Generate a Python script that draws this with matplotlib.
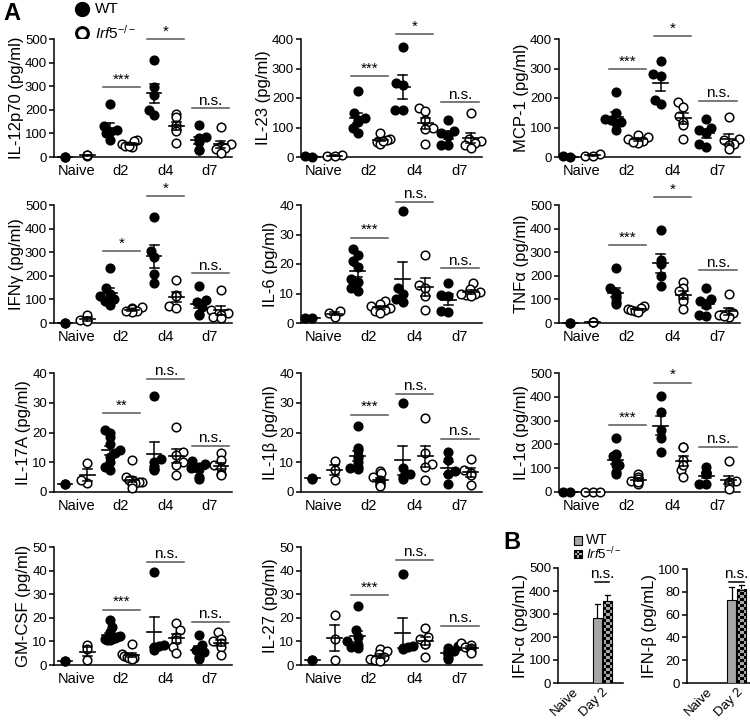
import numpy as np
import matplotlib
matplotlib.use('Agg')
import matplotlib.pyplot as plt
from matplotlib.colors import ListedColormap
from matplotlib.patches import Rectangle

plt.rcParams['font.family'] = ['Liberation Sans', 'DejaVu Sans']
plt.rcParams['mathtext.fontset'] = 'custom'
plt.rcParams['mathtext.rm'] = 'Liberation Sans'
plt.rcParams['mathtext.it'] = 'Liberation Sans:italic'
plt.rcParams['mathtext.bf'] = 'Liberation Sans:bold'

W, H = 750, 722
fig = plt.figure(figsize=(W / 100, H / 100), dpi=100)

# ---------------- data ----------------
days = ['Naive', 'd2', 'd4', 'd7']

il12_wt = [[1, 2], [224, 130, 115, 108, 100, 72], [412, 295, 263, 199, 178], [135, 85, 80, 62, 30, 28]]
il12_ko = [[9, 5, 7], [70, 66, 55, 48, 42, 45], [182, 170, 135, 125, 110, 60], [128, 57, 48, 40, 35, 15]]
il12_sig = ['***', '*', 'n.s.']
il12_sig_y = [295, 501, 206]

il23_wt = [[1, 2], [225, 148, 132, 126, 118, 100, 80], [372, 252, 245, 160, 158], [127, 88, 82, 72, 42, 40]]
il23_ko = [[8, 4, 2], [80, 62, 57, 50, 45, 55], [165, 155, 125, 100, 95, 43], [148, 60, 55, 48, 40, 30]]
il23_sig = ['***', '*', 'n.s.']
il23_sig_y = [275, 417, 185]

mcp_wt = [[1, 2], [222, 150, 128, 120, 115, 92, 125], [327, 280, 275, 193, 178], [130, 100, 90, 80, 45, 35]]
mcp_ko = [[10, 5, 3], [75, 68, 62, 55, 48, 52], [188, 170, 140, 120, 108, 62], [136, 62, 57, 45, 40, 28]]
mcp_sig = ['***', '*', 'n.s.']
mcp_sig_y = [299, 409, 191]

ifng_wt = [[1, 2], [232, 150, 125, 115, 100, 75, 95], [448, 307, 279, 208, 170], [155, 96, 89, 68, 40, 32]]
ifng_ko = [[35, 12, 8], [68, 62, 58, 52, 45, 50], [183, 117, 115, 70, 65], [141, 55, 42, 35, 25, 20]]
ifng_sig = ['*', '*', 'n.s.']
ifng_sig_y = [304, 537, 211]

il6_wt = [[1.8, 1.6], [25, 23, 21, 19, 15, 14, 12, 11], [38, 12, 10, 8, 7], [13.6, 9.6, 9, 4, 3.6]]
il6_ko = [[4, 3.5, 2], [7.4, 6.5, 5.8, 5.2, 4.5, 4, 3.5], [23, 13, 12, 9, 4.3], [13.5, 11.5, 10.5, 10, 9.5, 9, 9.8]]
il6_sig = ['***', 'n.s.', 'n.s.']
il6_sig_y = [28.9, 41.1, 18.5]

tnf_wt = [[1, 2], [232, 150, 128, 115, 105, 90, 80], [392, 265, 251, 201, 155], [150, 100, 95, 75, 35, 30]]
tnf_ko = [[5, 3, 4], [70, 65, 60, 55, 50, 45], [173, 150, 135, 110, 95, 58], [122, 48, 42, 35, 25, 30]]
tnf_sig = ['***', '*', 'n.s.']
tnf_sig_y = [331, 532, 223]

il17_wt = [[2.8, 2.7], [21, 20, 18.6, 16, 14, 13, 11.8, 10, 8.5, 7.3], [32.3, 11, 10, 8, 7.6, 7.5],
           [10.5, 9.5, 8.5, 8, 7.8, 5, 4.5]]
il17_ko = [[9.9, 3, 4.2], [10.6, 5, 4.2, 3.9, 3.4, 3.2, 3, 2.8, 1.5], [22, 13.5, 12.5, 10, 9, 5.6],
           [13, 10.7, 9, 8, 6.2, 5.6]]
il17_sig = ['**', 'n.s.', 'n.s.']
il17_sig_y = [26.5, 38.1, 15.5]

il1b_wt = [[4.5, 4.6], [22.3, 14.7, 14, 12, 11.5, 10, 8.5, 8, 7.8], [29.8, 8, 6, 5, 4.5], [13.6, 10.8, 7, 6, 2.8]]
il1b_ko = [[10.5, 7.5, 4.2], [7.2, 6.5, 5, 4, 3.4, 3, 2.5, 2], [24.9, 13, 9.5, 8.5, 4], [11, 7.5, 6.3, 5.8, 2.3]]
il1b_sig = ['***', 'n.s.', 'n.s.']
il1b_sig_y = [26, 33, 17.9]

il1a_wt = [[0, 0], [225, 160, 155, 150, 120, 115, 113, 85, 75], [404, 338, 261, 225, 169], [105, 85, 80, 75, 35, 35]]
il1a_ko = [[0, 0, 0], [75, 65, 55, 48, 42, 35, 40], [190, 188, 134, 92, 63, 115], [132, 48, 42, 40, 28, 14]]
il1a_sig = ['***', '*', 'n.s.']
il1a_sig_y = [282, 460, 190]

gm_wt = [[1.8, 1.7], [19, 16, 14, 12.5, 12, 11.5, 11, 11, 10.5, 10.5], [39.4, 8.5, 8.2, 7.5, 6.5],
         [12.7, 8.5, 6.5, 5.5, 3.5, 2.5]]
gm_ko = [[8.3, 6.8, 2.0], [9, 4.5, 4, 3.5, 3, 2.8, 2.5], [17.6, 14.8, 12, 10.6, 7.7, 4.9], [14, 11, 10, 9.5, 7.7, 4.2]]
gm_sig = ['***', 'n.s.', 'n.s.']
gm_sig_y = [23.5, 43.7, 18.3]

il27_wt = [[2.1, 2.0], [25, 15, 12, 10, 8.5, 7.5, 7], [38.7, 8, 7.5, 7, 6.8], [8, 7, 6, 5.5, 4.5, 3.5, 2.5]]
il27_ko = [[21, 11, 2.0], [6.8, 6, 4.5, 3.5, 2.5, 2, 1.5], [15.8, 12, 11, 9, 8.9, 3.5], [9.5, 8.5, 7.5, 7, 6, 5]]
il27_sig = ['***', 'n.s.', 'n.s.']
il27_sig_y = [29.6, 44.6, 16.6]

b_groups = ['Naive', 'Day 2']
ifna_wt = [0, 282]
ifna_wt_err = [0, 60]
ifna_ko = [0, 355]
ifna_ko_err = [0, 28]
ifna_sig_y = 440
ifnb_wt = [0, 73]
ifnb_wt_err = [0, 11]
ifnb_ko = [0, 82]
ifnb_ko_err = [0, 4]
ifnb_sig_y = 89

# ---------------- layout (pixels) ----------------
col_l = [54, 301, 559]
col_r = [232, 482, 740]
row_tb = [(39, 157), (205, 323), (373, 492), (547, 665)]

GRAY = '#a6a6a6'
DIAM = 8.5  # marker diameter px


def add_ax(l, t, r, b):
    return fig.add_axes([l / W, 1 - b / H, (r - l) / W, (b - t) / H])


def swarm(vals, pxy, d, maxhalf):
    ys = np.asarray(vals, float) * pxy
    order = np.argsort(ys, kind='stable')
    xs = np.zeros(len(ys))
    placed = []
    for n, i in enumerate(order):
        y = ys[i]
        cands = [0.0]
        for (px, py) in placed:
            dy = y - py
            if abs(dy) < d:
                dx = np.sqrt(d * d - dy * dy)
                cands += [px + dx, px - dx]
        sgn = 1 if n % 2 == 0 else -1
        cands = sorted(set(np.round(cands, 6)), key=lambda c: (abs(c), -sgn * c))
        for c in cands:
            if all((c - px) ** 2 + (y - py) ** 2 >= d * d - 1e-6 for px, py in placed):
                xs[i] = c
                break
        placed.append((xs[i], y))
    m = np.abs(xs).max() if len(xs) else 0
    if m > maxhalf:
        xs *= maxhalf / m
    return xs


def style_ax(ax):
    for s in ['top', 'right']:
        ax.spines[s].set_visible(False)
    for s in ['left', 'bottom']:
        ax.spines[s].set_linewidth(1.1)
    ax.tick_params(axis='y', direction='out', length=3.5, width=1.1, pad=1.5, labelsize=9.5)


def scatter_panel(col, row, wt, ko, ymax, ystep, ylabel, sig, sig_y):
    l, r = col_l[col], col_r[col]
    t, b = row_tb[row]
    ax = add_ax(l, t, r, b)
    ax.set_xlim(-0.5, 7.5)
    ax.set_ylim(0, ymax)
    pxx = (r - l) / 8.0
    pxy = (b - t) / ymax
    for gi in range(4):
        for k, (vals, filled) in enumerate([(wt[gi], True), (ko[gi], False)]):
            c = 2 * gi + k
            v = np.asarray(vals, float)
            offs = swarm(v, pxy, DIAM * 0.88, 0.45 * pxx) / pxx
            ax.plot(c + offs, v, 'o', ms=6.2, mfc='black' if filled else 'white', mec='black',
                    mew=1.1, ls='none', clip_on=False, zorder=3)
            m = v.mean()
            se = v.std(ddof=1) / np.sqrt(len(v)) if len(v) > 1 else 0
            ax.plot([c - 0.33, c + 0.33], [m, m], color='black', lw=1.2, zorder=4, clip_on=False)
            if se > 0:
                ax.plot([c, c], [m - se, m + se], color='black', lw=1.1, zorder=4, clip_on=False)
                for yy in (m - se, m + se):
                    ax.plot([c - 0.2, c + 0.2], [yy, yy], color='black', lw=1.1, zorder=4, clip_on=False)
    for j, (s, y) in enumerate(zip(sig, sig_y)):
        gi = j + 1
        x0, x1 = 2 * gi - 0.3, 2 * gi + 1 + 0.35
        ax.plot([x0, x1], [y, y], color='#555555', lw=1.1, clip_on=False)
        ax.annotate(s, ((x0 + x1) / 2, y), xytext=(0, 2.5), textcoords='offset points',
                    ha='center', va='baseline', fontsize=11, annotation_clip=False)
    style_ax(ax)
    ax.set_yticks(np.arange(0, ymax + ystep / 2, ystep))
    ax.set_xticks([0.5, 2.5, 4.5, 6.5])
    ax.set_xticklabels(days, fontsize=10.5)
    ax.tick_params(axis='x', length=0, pad=5)
    ax.set_ylabel(ylabel, fontsize=12, labelpad=0.5)
    return ax


def checker(ax, x0, x1, y0, y1, cell_px, pxx, pxy, zorder=3):
    nx = max(1, int(round((x1 - x0) * pxx / cell_px)))
    ny = max(1, int(round((y1 - y0) * pxy / cell_px)))
    arr = (np.add.outer(np.arange(ny), np.arange(nx)) % 2).astype(float)
    ax.imshow(arr, extent=(x0, x1, y0, y1), origin='lower', aspect='auto',
              cmap=ListedColormap(['black', GRAY]), vmin=0, vmax=1,
              interpolation='nearest', zorder=zorder)


def bar_panel(l, t, r, b, xlim, wt, wt_err, ko, ko_err, ymax, ystep, ylabel, sig_y):
    ax = add_ax(l, t, r, b)
    pxx = (r - l) / (xlim[1] - xlim[0])
    pxy = (b - t) / ymax
    bw = 0.31
    x = np.arange(len(b_groups))
    for i in x:
        xw, xk = i - 0.165, i + 0.165
        if wt[i] > 0:
            ax.bar(xw, wt[i], width=bw, color=GRAY, edgecolor='black', lw=0.8, zorder=3)
            top = wt[i] + wt_err[i]
            ax.plot([xw, xw], [wt[i], top], color='black', lw=0.9, zorder=2)
            ax.plot([xw - 0.09, xw + 0.09], [top, top], color='black', lw=0.9, zorder=2)
        if ko[i] > 0:
            checker(ax, xk - bw / 2, xk + bw / 2, 0, ko[i], 3.0, pxx, pxy)
            ax.add_patch(Rectangle((xk - bw / 2, 0), bw, ko[i], fill=False, edgecolor='black', lw=0.8, zorder=4))
            top = ko[i] + ko_err[i]
            ax.plot([xk, xk], [ko[i], top], color='black', lw=0.9, zorder=2)
            ax.plot([xk - 0.09, xk + 0.09], [top, top], color='black', lw=0.9, zorder=2)
    x0, x1 = 1 - 0.24, 1 + 0.24
    ax.plot([x0, x1], [sig_y, sig_y], color='black', lw=1.1, clip_on=False)
    ax.annotate('n.s.', ((x0 + x1) / 2, sig_y), xytext=(0, 2.5), textcoords='offset points',
                ha='center', va='baseline', fontsize=11, annotation_clip=False)
    ax.set_xlim(*xlim)
    ax.set_ylim(0, ymax)
    style_ax(ax)
    ax.set_yticks(np.arange(0, ymax + ystep / 2, ystep))
    ax.set_xticks(x)
    ax.set_xticklabels(b_groups, rotation=45, ha='right', rotation_mode='anchor', fontsize=9.5)
    ax.tick_params(axis='x', length=0, pad=2)
    ax.set_ylabel(ylabel, fontsize=12, labelpad=0.5)
    return ax


# overlay for legends / panel letters
ax0 = fig.add_axes([0, 0, 1, 1])
ax0.set_xlim(0, W)
ax0.set_ylim(H, 0)
ax0.axis('off')

ax0.text(3, 2, 'A', fontsize=17, fontweight='bold', ha='left', va='top')
ax0.text(503, 531, 'B', fontsize=17, fontweight='bold', ha='left', va='top')
ax0.plot([82], [9], 'o', ms=9.5, mfc='black', mec='black', mew=1.5)
ax0.plot([82], [33], 'o', ms=8.5, mfc='white', mec='black', mew=2.2)
ax0.text(95, 9, 'WT', fontsize=11, ha='left', va='center')
ax0.text(95, 33, r'$\mathit{Irf5}^{-/-}$', fontsize=11, ha='left', va='center')

ax0.add_patch(Rectangle((574, 536), 8, 9, facecolor=GRAY, edgecolor='black', lw=0.8))
ax0.imshow((np.add.outer(np.arange(3), np.arange(3)) % 2).astype(float), extent=(574, 582, 558, 550),
           origin='upper', aspect='auto', cmap=ListedColormap(['black', GRAY]), vmin=0, vmax=1,
           interpolation='nearest')
ax0.add_patch(Rectangle((574, 550), 8, 8, fill=False, edgecolor='black', lw=0.8))
ax0.set_xlim(0, W)
ax0.set_ylim(H, 0)
ax0.text(586, 540.5, 'WT', fontsize=10, ha='left', va='center')
ax0.text(586, 554.5, r'$\mathit{Irf5}^{-/-}$', fontsize=9.5, ha='left', va='center')

scatter_panel(0, 0, il12_wt, il12_ko, 500, 100, 'IL-12p70 (pg/ml)', il12_sig, il12_sig_y)
scatter_panel(1, 0, il23_wt, il23_ko, 400, 100, 'IL-23 (pg/ml)', il23_sig, il23_sig_y)
scatter_panel(2, 0, mcp_wt, mcp_ko, 400, 100, 'MCP-1 (pg/ml)', mcp_sig, mcp_sig_y)
scatter_panel(0, 1, ifng_wt, ifng_ko, 500, 100, 'IFNγ (pg/ml)', ifng_sig, ifng_sig_y)
scatter_panel(1, 1, il6_wt, il6_ko, 40, 10, 'IL-6 (pg/ml)', il6_sig, il6_sig_y)
scatter_panel(2, 1, tnf_wt, tnf_ko, 500, 100, 'TNFα (pg/ml)', tnf_sig, tnf_sig_y)
scatter_panel(0, 2, il17_wt, il17_ko, 40, 10, 'IL-17A (pg/ml)', il17_sig, il17_sig_y)
scatter_panel(1, 2, il1b_wt, il1b_ko, 40, 10, 'IL-1β (pg/ml)', il1b_sig, il1b_sig_y)
scatter_panel(2, 2, il1a_wt, il1a_ko, 500, 100, 'IL-1α (pg/ml)', il1a_sig, il1a_sig_y)
scatter_panel(0, 3, gm_wt, gm_ko, 50, 10, 'GM-CSF (pg/ml)', gm_sig, gm_sig_y)
scatter_panel(1, 3, il27_wt, il27_ko, 50, 10, 'IL-27 (pg/ml)', il27_sig, il27_sig_y)

bar_panel(558, 568, 623, 683, (-0.5, 1.7), ifna_wt, ifna_wt_err, ifna_ko, ifna_ko_err, 500, 100,
          'IFN-α (pg/mL)', ifna_sig_y)
bar_panel(687, 569, 750, 683, (-0.65, 1.45), ifnb_wt, ifnb_wt_err, ifnb_ko, ifnb_ko_err, 100, 20,
          'IFN-β (pg/mL)', ifnb_sig_y)

fig.savefig('out.png', dpi=100)
